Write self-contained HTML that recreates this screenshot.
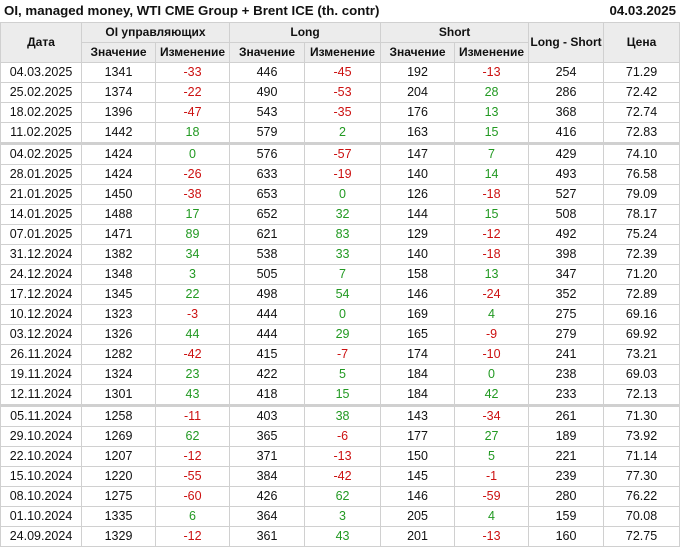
<!DOCTYPE html>
<html><head><meta charset="utf-8"><style>
body{margin:0;width:680px;height:548px;background:#fff;font-family:"Liberation Sans",Arial,sans-serif;overflow:hidden;position:relative}
.t{position:absolute;top:3px;left:4px;font-weight:bold;font-size:13.3px;color:#111}
.d{position:absolute;top:3px;right:4px;font-weight:bold;font-size:13.3px;color:#111}
table{position:absolute;top:22px;left:0;border-collapse:collapse;table-layout:fixed;width:679px;font-size:12.5px;color:#111}
td,th{border:1px solid #d0d0d0;text-align:center;padding:0;height:19.03px;line-height:13px;white-space:nowrap}
th{background:#ececec;font-weight:bold;font-size:12px}
.r{color:#cc1111}.g{color:#229922}
tr.s td{border-top:3px solid #d0d0d0}
</style></head><body>
<div class="t">OI, managed money, WTI CME Group + Brent ICE (th. contr)</div>
<div class="d">04.03.2025</div>
<table>
<colgroup><col style="width:81px"><col style="width:74px"><col style="width:74px"><col style="width:75px"><col style="width:76px"><col style="width:74px"><col style="width:74px"><col style="width:75px"><col style="width:76px"></colgroup>
<tr><th rowspan="2">Дата</th><th colspan="2">OI управляющих</th><th colspan="2">Long</th><th colspan="2">Short</th><th rowspan="2">Long - Short</th><th rowspan="2">Цена</th></tr>
<tr><th>Значение</th><th>Изменение</th><th>Значение</th><th>Изменение</th><th>Значение</th><th>Изменение</th></tr>
<tr><td>04.03.2025</td><td>1341</td><td class="r">-33</td><td>446</td><td class="r">-45</td><td>192</td><td class="r">-13</td><td>254</td><td>71.29</td></tr>
<tr><td>25.02.2025</td><td>1374</td><td class="r">-22</td><td>490</td><td class="r">-53</td><td>204</td><td class="g">28</td><td>286</td><td>72.42</td></tr>
<tr><td>18.02.2025</td><td>1396</td><td class="r">-47</td><td>543</td><td class="r">-35</td><td>176</td><td class="g">13</td><td>368</td><td>72.74</td></tr>
<tr><td>11.02.2025</td><td>1442</td><td class="g">18</td><td>579</td><td class="g">2</td><td>163</td><td class="g">15</td><td>416</td><td>72.83</td></tr>
<tr class="s"><td>04.02.2025</td><td>1424</td><td class="g">0</td><td>576</td><td class="r">-57</td><td>147</td><td class="g">7</td><td>429</td><td>74.10</td></tr>
<tr><td>28.01.2025</td><td>1424</td><td class="r">-26</td><td>633</td><td class="r">-19</td><td>140</td><td class="g">14</td><td>493</td><td>76.58</td></tr>
<tr><td>21.01.2025</td><td>1450</td><td class="r">-38</td><td>653</td><td class="g">0</td><td>126</td><td class="r">-18</td><td>527</td><td>79.09</td></tr>
<tr><td>14.01.2025</td><td>1488</td><td class="g">17</td><td>652</td><td class="g">32</td><td>144</td><td class="g">15</td><td>508</td><td>78.17</td></tr>
<tr><td>07.01.2025</td><td>1471</td><td class="g">89</td><td>621</td><td class="g">83</td><td>129</td><td class="r">-12</td><td>492</td><td>75.24</td></tr>
<tr><td>31.12.2024</td><td>1382</td><td class="g">34</td><td>538</td><td class="g">33</td><td>140</td><td class="r">-18</td><td>398</td><td>72.39</td></tr>
<tr><td>24.12.2024</td><td>1348</td><td class="g">3</td><td>505</td><td class="g">7</td><td>158</td><td class="g">13</td><td>347</td><td>71.20</td></tr>
<tr><td>17.12.2024</td><td>1345</td><td class="g">22</td><td>498</td><td class="g">54</td><td>146</td><td class="r">-24</td><td>352</td><td>72.89</td></tr>
<tr><td>10.12.2024</td><td>1323</td><td class="r">-3</td><td>444</td><td class="g">0</td><td>169</td><td class="g">4</td><td>275</td><td>69.16</td></tr>
<tr><td>03.12.2024</td><td>1326</td><td class="g">44</td><td>444</td><td class="g">29</td><td>165</td><td class="r">-9</td><td>279</td><td>69.92</td></tr>
<tr><td>26.11.2024</td><td>1282</td><td class="r">-42</td><td>415</td><td class="r">-7</td><td>174</td><td class="r">-10</td><td>241</td><td>73.21</td></tr>
<tr><td>19.11.2024</td><td>1324</td><td class="g">23</td><td>422</td><td class="g">5</td><td>184</td><td class="g">0</td><td>238</td><td>69.03</td></tr>
<tr><td>12.11.2024</td><td>1301</td><td class="g">43</td><td>418</td><td class="g">15</td><td>184</td><td class="g">42</td><td>233</td><td>72.13</td></tr>
<tr class="s"><td>05.11.2024</td><td>1258</td><td class="r">-11</td><td>403</td><td class="g">38</td><td>143</td><td class="r">-34</td><td>261</td><td>71.30</td></tr>
<tr><td>29.10.2024</td><td>1269</td><td class="g">62</td><td>365</td><td class="r">-6</td><td>177</td><td class="g">27</td><td>189</td><td>73.92</td></tr>
<tr><td>22.10.2024</td><td>1207</td><td class="r">-12</td><td>371</td><td class="r">-13</td><td>150</td><td class="g">5</td><td>221</td><td>71.14</td></tr>
<tr><td>15.10.2024</td><td>1220</td><td class="r">-55</td><td>384</td><td class="r">-42</td><td>145</td><td class="r">-1</td><td>239</td><td>77.30</td></tr>
<tr><td>08.10.2024</td><td>1275</td><td class="r">-60</td><td>426</td><td class="g">62</td><td>146</td><td class="r">-59</td><td>280</td><td>76.22</td></tr>
<tr><td>01.10.2024</td><td>1335</td><td class="g">6</td><td>364</td><td class="g">3</td><td>205</td><td class="g">4</td><td>159</td><td>70.08</td></tr>
<tr><td>24.09.2024</td><td>1329</td><td class="r">-12</td><td>361</td><td class="g">43</td><td>201</td><td class="r">-13</td><td>160</td><td>72.75</td></tr>
</table>
</body></html>
